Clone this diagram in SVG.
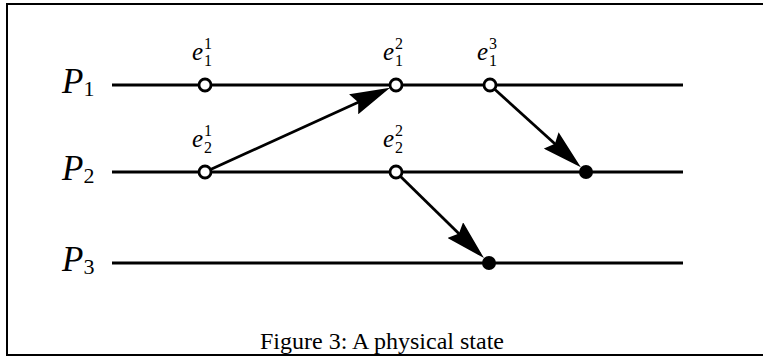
<svg xmlns="http://www.w3.org/2000/svg" width="763" height="360" viewBox="0 0 763 360">
<style>
.frame{stroke:#000;stroke-width:2;fill:none}
.line{stroke:#000;stroke-width:2.8;fill:none}
.open{fill:#fff;stroke:#000;stroke-width:2.8}
.filled{fill:#000;stroke:none}
.arrow{stroke:#000;stroke-width:2.8;fill:none;marker-end:url(#head)}
.pl{font-family:"Liberation Serif",serif;font-style:italic;font-size:35px}
.psub{font-family:"Liberation Serif",serif;font-style:normal;font-size:22px}
.el{font-family:"Liberation Serif",serif;font-style:italic;font-size:25px}
.idx{font-family:"Liberation Serif",serif;font-style:normal;font-size:16px}
.cap{font-family:"Liberation Serif",serif;font-size:24px}
</style>
<defs>
<marker id="head" markerUnits="userSpaceOnUse" viewBox="0 0 40 22" markerWidth="40" markerHeight="22" refX="34" refY="11" orient="auto">
<path d="M0,0 L40,11 L0,22 L5,11 Z" fill="#000"/>
</marker>
</defs>
<rect width="763" height="360" fill="#fff"/>
<g id="frame">
<path class="frame" d="M763,4 H7 V355 H763"/>
</g>
<g id="P1">
<line class="line" x1="112" y1="85" x2="683" y2="85"/>
<text class="pl" x="62" y="93">P<tspan class="psub" dy="3">1</tspan></text>
</g>
<g id="P2">
<line class="line" x1="112" y1="172" x2="683" y2="172"/>
<text class="pl" x="62" y="180">P<tspan class="psub" dy="3">2</tspan></text>
</g>
<g id="P3">
<line class="line" x1="112" y1="263" x2="683" y2="263"/>
<text class="pl" x="62" y="271">P<tspan class="psub" dy="3">3</tspan></text>
</g>
<g id="connectors">
<path class="arrow" d="M210.5,169.5 L384.6,90.2"/>
<path class="arrow" d="M494.4,89 L576.4,163.3"/>
<path class="arrow" d="M400.3,176.2 L479.7,253.9"/>
</g>
<g id="e11">
<circle class="open" cx="205" cy="85" r="6"/>
<text class="el" x="192" y="60">e</text>
<text class="idx" x="204" y="49">1</text>
<text class="idx" x="204" y="66">1</text>
</g>
<g id="e12">
<circle class="open" cx="396" cy="85" r="6"/>
<text class="el" x="383" y="60">e</text>
<text class="idx" x="395" y="49">2</text>
<text class="idx" x="395" y="66">1</text>
</g>
<g id="e13">
<circle class="open" cx="490" cy="85" r="6"/>
<text class="el" x="477" y="60">e</text>
<text class="idx" x="489" y="49">3</text>
<text class="idx" x="489" y="66">1</text>
</g>
<g id="e21">
<circle class="open" cx="205" cy="172" r="6"/>
<text class="el" x="192" y="147">e</text>
<text class="idx" x="204" y="136">1</text>
<text class="idx" x="204" y="153">2</text>
</g>
<g id="e22">
<circle class="open" cx="396" cy="172" r="6"/>
<text class="el" x="383" y="147">e</text>
<text class="idx" x="395" y="136">2</text>
<text class="idx" x="395" y="153">2</text>
</g>
<g id="r2">
<circle class="filled" cx="586" cy="172" r="7"/>
</g>
<g id="r3">
<circle class="filled" cx="489" cy="263" r="7"/>
</g>
<g id="caption">
<text class="cap" x="382" y="349" text-anchor="middle">Figure 3: A physical state</text>
</g>
</svg>
